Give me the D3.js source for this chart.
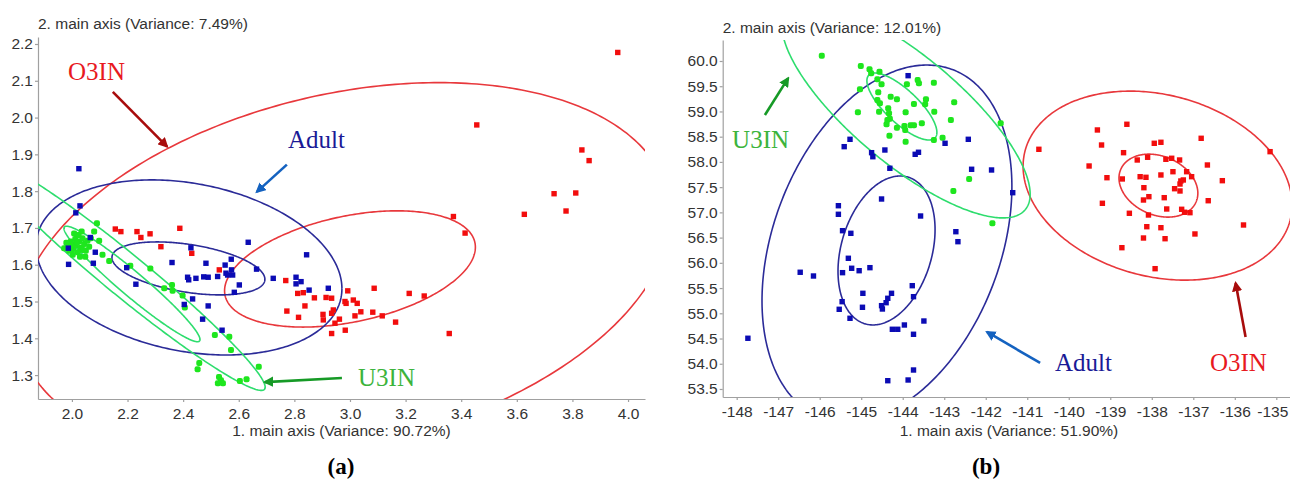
<!DOCTYPE html>
<html><head><meta charset="utf-8">
<script src="https://cdn.jsdelivr.net/npm/d3@7"></script>
<style>body{margin:0;background:#fff}svg{display:block}</style>
</head><body>
<svg id="chart" width="1290" height="486"></svg>
<script>
// ---------------- Panel (a) data ----------------
const aXTicks = [2.0, 2.2, 2.4, 2.6, 2.8, 3.0, 3.2, 3.4, 3.6, 3.8, 4.0];
const aYTicks = [1.3, 1.4, 1.5, 1.6, 1.7, 1.8, 1.9, 2.0, 2.1, 2.2];
const aXTitle = "1. main axis (Variance: 90.72%)";
const aYTitle = "2. main axis (Variance: 7.49%)";
const aGreen = [
 [1.972,1.645],[1.985,1.652],[1.996,1.663],[2.005,1.643],[2.012,1.670],[2.014,1.652],[2.021,1.634],[2.026,1.663],
 [2.032,1.646],[2.038,1.672],[2.044,1.656],[2.050,1.638],[2.056,1.665],[2.062,1.649],[2.003,1.627],[2.029,1.622],
 [1.990,1.638],[2.048,1.622],[2.024,1.681],[2.068,1.672],[1.980,1.660],[2.000,1.655],[2.018,1.660],[2.040,1.640],
 [2.008,1.685],[2.035,1.690],
 [2.090,1.713],[2.080,1.690],[2.098,1.665],[2.110,1.627],[2.134,1.610],[2.210,1.597],[2.282,1.590],[2.332,1.536],
 [2.360,1.545],[2.362,1.529],[2.398,1.516],[2.406,1.484],[2.514,1.409],[2.566,1.404],[2.572,1.368],[2.458,1.333],
 [2.452,1.316],[2.529,1.295],[2.536,1.286],[2.525,1.278],[2.543,1.278],[2.604,1.284],[2.628,1.289],[2.672,1.323]
];
const aBlue = [
 [2.025,1.861],[2.029,1.760],[2.014,1.741],[1.987,1.645],[1.988,1.601],[2.077,1.604],[2.084,1.634],[2.066,1.674],
 [2.197,1.592],[2.230,1.547],[2.360,1.606],[2.428,1.646],[2.416,1.566],[2.420,1.559],[2.446,1.563],[2.474,1.567],
 [2.490,1.566],[2.482,1.604],[2.524,1.568],[2.551,1.599],[2.554,1.577],[2.560,1.572],[2.573,1.615],[2.574,1.586],
 [2.578,1.572],[2.602,1.545],[2.584,1.525],[2.634,1.661],[2.664,1.588],[2.724,1.563],[2.434,1.507],[2.404,1.492],
 [2.490,1.488],[2.470,1.452],[2.540,1.422],[2.844,1.627],[2.806,1.566],[2.824,1.554],[2.806,1.548],[2.853,1.531],
 [2.922,1.536]
];
const aRed = [
 [2.156,1.697],[2.176,1.690],[2.234,1.690],[2.248,1.674],[2.281,1.684],[2.388,1.699],[2.320,1.649],[2.431,1.631],
 [2.530,1.586],[2.769,1.557],[2.812,1.522],[2.832,1.524],[2.872,1.510],[2.914,1.511],[2.934,1.509],[2.992,1.529],
 [3.087,1.536],[2.838,1.488],[2.773,1.474],[2.815,1.457],[2.903,1.465],[2.904,1.450],[2.940,1.477],[2.934,1.468],
 [2.946,1.441],[2.962,1.452],[2.982,1.500],[2.986,1.495],[3.012,1.504],[3.026,1.495],[3.039,1.472],[3.018,1.461],
 [3.082,1.471],[3.116,1.461],[3.164,1.444],[3.213,1.522],[3.267,1.515],[2.934,1.413],[2.983,1.422],[3.357,1.413],
 [3.372,1.731],[3.414,1.686],[3.627,1.737],[3.777,1.746],[3.963,2.177],[3.456,1.980],[3.834,1.912],[3.860,1.883],
 [3.734,1.793],[3.812,1.795]
];
// ellipses: [centerX, centerY, halfRangeX, halfRangeY, correlation]
const aEllRed   = [[2.979,1.586,1.173,0.509,0.29],[3.000,1.5885,0.451,0.158,0.375]];
const aEllBlue  = [[2.421,1.5926,0.550,0.238,-0.242],[2.419,1.590,0.275,0.072,-0.41]];
const aEllGreen = [[2.191,1.572,0.504,0.3136,-0.972],[2.216,1.5477,0.2446,0.157,-0.962]];
// annotations: [label, labelX, labelY, arrowX1, arrowY1, arrowX2, arrowY2]
const aNotes = [
 ["O3IN", 1.986, 2.103, 2.147, 2.070, 2.342, 1.921],
 ["Adult", 2.777, 1.918, 2.773, 1.872, 2.665, 1.798],
 ["U3IN", 3.029, 1.270, 2.971, 1.292, 2.694, 1.281]
];

// ---------------- Panel (b) data ----------------
const bXTicks = [-148,-147,-146,-145,-144,-143,-142,-141,-140,-139,-138,-137,-136,-135];
const bYTicks = [53.5,54.0,54.5,55.0,55.5,56.0,56.5,57.0,57.5,58.0,58.5,59.0,59.5,60.0];
const bXTitle = "1. main axis (Variance: 51.90%)";
const bYTitle = "2. main axis (Variance: 12.01%)";
const bGreen = [
 [-145.95,60.105],[-145.01,59.901],[-144.80,59.836],[-144.76,59.756],[-144.56,59.788],[-145.03,59.439],[-144.61,59.637],
 [-144.51,59.538],[-144.59,59.380],[-144.61,59.227],[-144.55,59.162],[-144.29,59.292],[-144.14,59.241],[-143.90,59.538],
 [-143.64,59.623],[-143.61,59.558],[-143.25,59.570],[-143.73,59.148],[-143.44,59.241],[-143.46,59.142],[-145.08,58.983],
 [-144.57,58.995],[-144.35,59.063],[-144.33,58.964],[-143.93,58.983],[-143.24,58.995],[-142.76,59.182],[-144.37,58.831],
 [-144.31,58.857],[-144.39,58.746],[-144.14,58.678],[-143.96,58.712],[-143.94,58.633],[-143.81,58.726],[-143.73,58.726],
 [-143.54,58.765],[-142.84,58.831],[-144.32,58.520],[-143.93,58.401],[-143.25,58.434],[-143.04,58.480],[-141.64,58.765],
 [-142.40,57.662],[-142.78,57.424],[-141.84,56.784]
];
const bBlue = [
 [-143.87,59.709],[-145.27,58.448],[-145.41,58.302],[-144.75,58.183],[-144.72,58.103],[-144.43,58.236],[-143.70,58.151],
 [-143.62,58.191],[-144.31,57.874],[-142.98,58.369],[-142.42,58.448],[-142.34,57.854],[-141.86,57.840],[-141.35,57.390],
 [-144.51,57.265],[-145.55,57.132],[-145.55,56.962],[-145.45,56.637],[-145.25,56.585],[-143.57,56.928],[-142.72,56.617],
 [-142.67,56.419],[-145.31,56.090],[-145.23,55.892],[-145.45,55.805],[-145.05,55.844],[-144.79,55.904],[-146.47,55.813],
 [-146.15,55.739],[-144.96,55.396],[-145.46,55.230],[-145.53,55.079],[-144.97,55.119],[-145.27,54.901],[-144.51,55.151],
 [-144.49,55.085],[-144.40,55.210],[-144.36,55.297],[-144.27,55.396],[-143.77,55.547],[-143.74,55.329],[-144.25,54.683],
 [-144.12,54.683],[-143.96,54.768],[-143.74,54.584],[-143.49,54.847],[-147.73,54.505],[-143.74,53.876],[-143.87,53.678],
 [-144.36,53.664]
];
const bRed = [
 [-140.72,58.250],[-139.31,58.633],[-138.60,58.746],[-139.21,58.335],[-139.51,57.919],[-138.68,58.183],[-137.94,58.369],
 [-137.78,58.389],[-136.81,58.468],[-135.15,58.203],[-139.08,57.687],[-138.71,57.662],[-138.35,58.038],[-138.10,58.092],
 [-137.66,58.052],[-137.52,58.072],[-137.33,58.038],[-137.49,57.806],[-137.16,57.806],[-137.78,57.741],[-138.28,57.707],
 [-138.14,57.695],[-136.66,57.939],[-137.04,57.707],[-137.24,57.642],[-137.30,57.622],[-137.32,57.562],[-136.30,57.628],
 [-138.19,57.489],[-137.45,57.469],[-137.32,57.424],[-139.19,57.180],[-138.20,57.245],[-138.07,57.311],[-137.70,57.291],
 [-136.64,57.231],[-138.54,56.982],[-138.08,56.948],[-137.64,57.067],[-137.28,57.061],[-137.21,57.002],[-137.08,56.994],
 [-138.12,56.716],[-137.78,56.696],[-138.20,56.492],[-137.68,56.478],[-136.96,56.572],[-135.79,56.750],[-138.72,56.300],
 [-137.92,55.884]
];
const bEllRed   = [[-137.86,57.53,3.24,1.873,-0.204],[-137.84,57.53,0.95,0.624,-0.24]];
const bEllBlue  = [[-144.38,56.38,3.01,3.54,0.32],[-144.39,56.245,1.169,1.476,0.28]];
const bEllGreen = [[-143.92,59.03,2.99,2.14,-0.78],[-144.02,59.098,0.843,0.664,-0.77]];
const bNotes = [
 ["U3IN", -148.11, 58.276, -147.32, 58.93, -146.76, 59.66],
 ["Adult", -140.33, 53.857, -140.69, 54.015, -141.97, 54.63],
 ["O3IN", -136.60, 53.857, -135.74, 54.53, -135.98, 55.60]
];

// ---------------- styles ----------------
const SANS = "'Liberation Sans', Arial, Helvetica, sans-serif";
const SERIF = "'Liberation Serif', 'Times New Roman', serif";
const COL = {
  redPt: "#f20d0d", bluePt: "#0b0bb4", greenPt: "#1ee61e",
  redLine: "#e8383c", blueLine: "#2b2b98", greenLine: "#2edd6e",
  redText: "#e8191e", blueText: "#1a1a96", greenText: "#3cb43c",
  redArrow: "#a80c0c", blueArrow: "#1462c0", greenArrow: "#169a26",
  axis: "#a0a0a0", text: "#333333"
};

const svg = d3.select("#chart");
const defs = svg.append("defs");
[["redArrow",COL.redArrow],["blueArrow",COL.blueArrow],["greenArrow",COL.greenArrow]].forEach(([id,c])=>{
  defs.append("marker").attr("id","m-"+id).attr("viewBox","0 0 10 10").attr("refX",8).attr("refY",5)
    .attr("markerWidth",4).attr("markerHeight",4).attr("orient","auto-start-reverse")
    .append("path").attr("d","M0,0 L10,5 L0,10 z").attr("fill",c);
});

function ellipsePoints(e){
  const [cx,cy,rx,ry,rho] = e;
  const phi = Math.acos(rho);
  return d3.range(0, 361).map(i => {
    const t = i/360*2*Math.PI;
    return [cx + rx*Math.cos(t), cy + ry*Math.cos(t+phi)];
  });
}

function panel(cfg){
  const x = d3.scaleLinear().domain(cfg.xDom).range([cfg.left, cfg.right]);
  const y = d3.scaleLinear().domain(cfg.yDom).range([cfg.bottom, cfg.top]);
  const g = svg.append("g");
  const clipId = "clip-"+cfg.id;
  defs.append("clipPath").attr("id",clipId).append("rect")
    .attr("x",cfg.left).attr("y",cfg.top).attr("width",cfg.right-cfg.left).attr("height",cfg.bottom-cfg.top);

  // axes
  const xa = g.append("g").attr("transform",`translate(0,${cfg.bottom})`)
    .call(d3.axisBottom(x).tickValues(cfg.xTicks).tickFormat(cfg.xFmt).tickSize(3).tickSizeOuter(0).tickPadding(6));
  const ya = g.append("g").attr("transform",`translate(${cfg.left},0)`)
    .call(d3.axisLeft(y).tickValues(cfg.yTicks).tickFormat(d3.format(".1f")).tickSize(3).tickSizeOuter(0).tickPadding(2));
  [xa,ya].forEach(a=>{
    a.selectAll("path,line").attr("stroke",COL.axis).attr("stroke-width",1.2);
    a.selectAll("text").attr("fill",COL.text).style("font-family",SANS).style("font-size","15.5px");
  });
  if (cfg.lastTickShift) {
    xa.selectAll(".tick text").filter((d,i,n)=>i===n.length-1).attr("dx", cfg.lastTickShift);
  }

  g.append("text").attr("x",cfg.left).attr("y",cfg.yTitleY).text(cfg.yTitle)
    .attr("fill",COL.text).style("font-family",SANS).style("font-size","15.5px");
  g.append("text").attr("x",cfg.xTitleX).attr("y",cfg.xTitleY).attr("text-anchor","middle").text(cfg.xTitle)
    .attr("fill",COL.text).style("font-family",SANS).style("font-size","15.5px");
  g.append("text").attr("x",cfg.capX).attr("y",474).attr("text-anchor","middle").text(cfg.caption)
    .attr("fill","#000").style("font-family",SERIF).style("font-size","23px").style("font-weight","bold");

  const plot = g.append("g").attr("clip-path",`url(#${clipId})`);
  const line = d3.line().x(d=>x(d[0])).y(d=>y(d[1]));
  const ells = [[cfg.ellRed,COL.redLine],[cfg.ellBlue,COL.blueLine],[cfg.ellGreen,COL.greenLine]];
  ells.forEach(([arr,c])=>{
    plot.selectAll(null).data(arr).enter().append("path")
      .attr("d",e=>line(ellipsePoints(e))).attr("fill","none").attr("stroke",c).attr("stroke-width",1.6);
  });
  [[cfg.red,COL.redPt,0,5.4],[cfg.green,COL.greenPt,2,6],[cfg.blue,COL.bluePt,0,5.4]].forEach(([arr,c,r,S])=>{
    plot.selectAll(null).data(arr).enter().append("rect")
      .attr("x",d=>x(d[0])-S/2).attr("y",d=>y(d[1])-S/2).attr("width",S).attr("height",S)
      .attr("rx",r).attr("fill",c);
  });

  // annotations
  const noteCol = {O3IN:[COL.redText,COL.redArrow,"redArrow"], Adult:[COL.blueText,COL.blueArrow,"blueArrow"], U3IN:[COL.greenText,COL.greenArrow,"greenArrow"]};
  cfg.notes.forEach(n=>{
    const [txt,lx,ly,x1,y1,x2,y2] = n;
    const [tc,ac,mid] = noteCol[txt];
    g.append("text").attr("x",x(lx)).attr("y",y(ly)).text(txt).attr("fill",tc)
      .style("font-family",SERIF).style("font-size","25px");
    g.append("line").attr("x1",x(x1)).attr("y1",y(y1)).attr("x2",x(x2)).attr("y2",y(y2))
      .attr("stroke",ac).attr("stroke-width",2.6).attr("marker-end",`url(#m-${mid})`);
  });
}

panel({id:"a", left:38, right:645, top:37, bottom:399, xDom:[1.878,4.061], yDom:[1.235,2.219],
  xTicks:aXTicks, yTicks:aYTicks, xFmt:d3.format(".1f"), xTitle:aXTitle, yTitle:aYTitle,
  xTitleX:341.5, xTitleY:436, yTitleY:29, capX:341, caption:"(a)",
  red:aRed, blue:aBlue, green:aGreen, ellRed:aEllRed, ellBlue:aEllBlue, ellGreen:aEllGreen, notes:aNotes});

panel({id:"b", left:722.7, right:1290, top:40, bottom:397, xDom:[-148.337,-134.67], yDom:[53.341,60.416],
  xTicks:bXTicks, yTicks:bYTicks, xFmt:d=>String(d), xTitle:bXTitle, yTitle:bYTitle,
  xTitleX:1009, xTitleY:436, yTitleY:33, capX:986, caption:"(b)", lastTickShift:"-4px",
  red:bRed, blue:bBlue, green:bGreen, ellRed:bEllRed, ellBlue:bEllBlue, ellGreen:bEllGreen, notes:bNotes});
</script>
</body></html>
